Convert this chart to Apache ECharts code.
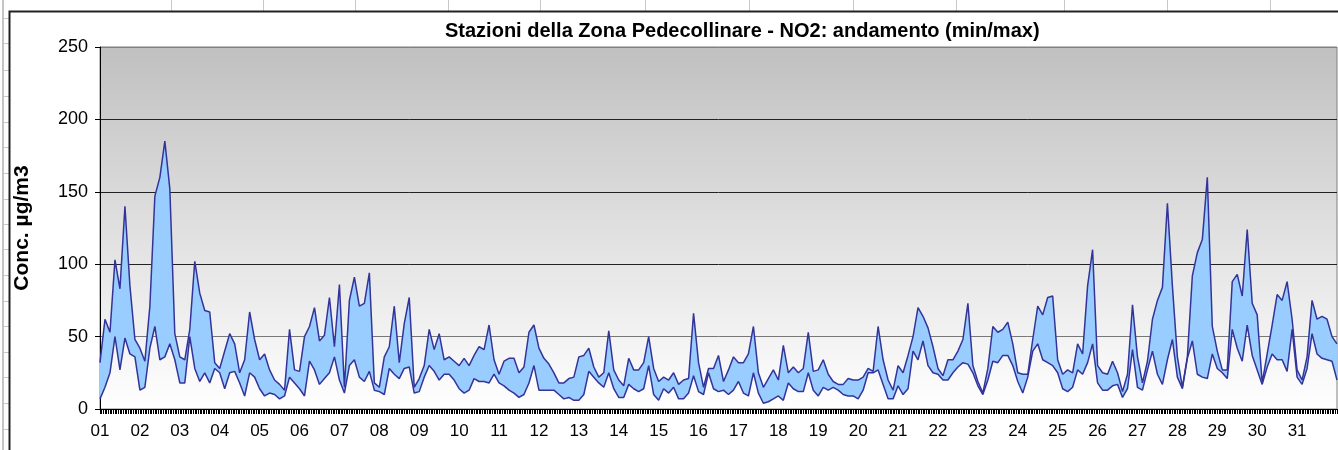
<!DOCTYPE html>
<html>
<head>
<meta charset="utf-8">
<script src="https://cdn.jsdelivr.net/npm/echarts@6/dist/echarts.min.js"></script>
<style>
    html, body {margin:0;padding:0;background:#fff;}
    #chart {width:1338px;height:450px;}
</style>
</head>
<body>
<div id="chart"></div>
<script>
    // giorni del mese (etichette asse x)
    var dayLabels = ['01','02','03','04','05','06','07','08','09','10','11','12','13','14','15','16',
        '17','18','19','20','21','22','23','24','25','26','27','28','29','30','31'];
    var yTicks = [0, 50, 100, 150, 200, 250];
    var stepHours = 3; // un valore ogni 3 ore

    // massimi orari, 8 valori al giorno + chiusura
    var maxVals = [
        32, 62, 53, 103, 83, 140, 85, 48,
        42, 33, 71, 147, 160, 185, 152, 52,
        36, 34, 55, 102, 80, 68, 67, 32,
        28, 40, 52, 45, 25, 34, 67, 48,
        34, 38, 27, 20, 17, 13, 55, 27,
        26, 50, 57, 70, 47, 51, 77, 43,
        86, 15, 75, 91, 71, 73, 94, 18,
        15, 36, 43, 71, 32, 59, 77, 15,
        21, 30, 55, 41, 52, 34, 36, 33,
        30, 35, 30, 37, 43, 41, 58, 34,
        24, 33, 35, 35, 25, 29, 53, 58,
        42, 35, 31, 25, 18, 18, 21, 22,
        36, 37, 42, 29, 22, 25, 54, 27,
        20, 16, 35, 27, 27, 32, 50, 28,
        19, 22, 20, 25, 17, 20, 21, 66,
        32, 15, 28, 28, 37, 19, 27, 36,
        32, 32, 38, 57, 25, 15, 21, 27,
        20, 44, 25, 29, 25, 28, 53, 26,
        27, 34, 24, 19, 17, 17, 21, 20,
        20, 22, 28, 26, 57, 34, 20, 13,
        30, 25, 37, 50, 70, 64, 56, 43,
        28, 23, 34, 34, 40, 48, 73, 30,
        19, 11, 28, 57, 53, 55, 60, 45,
        25, 24, 24, 48, 71, 65, 77, 78,
        34, 24, 27, 25, 45, 38, 85, 110,
        30, 25, 24, 33, 25, 12, 24, 72,
        36, 18, 33, 62, 75, 84, 142, 85,
        36, 15, 36, 92, 108, 117, 160, 57,
        40, 27, 27, 88, 93, 78, 124, 73,
        65, 18, 38, 58, 79, 75, 88, 62,
        27, 20, 36, 75, 62, 64, 62, 50,
        45
    ];

    // minimi orari
    var minVals = [
        7, 15, 25, 50, 27, 49, 38, 36,
        13, 15, 42, 57, 34, 36, 45, 34,
        18, 18, 50, 28, 19, 25, 18, 28,
        25, 14, 25, 26, 18, 9, 25, 22,
        14, 9, 11, 10, 7, 9, 22, 18,
        14, 9, 33, 27, 17, 21, 25, 36,
        20, 11, 30, 34, 22, 19, 26, 13,
        12, 10, 28, 24, 21, 28, 29, 11,
        12, 22, 30, 26, 20, 24, 24, 20,
        14, 11, 13, 21, 19, 19, 18, 24,
        18, 16, 13, 11, 8, 10, 18, 30,
        13, 13, 13, 13, 10, 7, 8, 6,
        6, 10, 26, 22, 18, 15, 25, 14,
        8, 8, 17, 14, 12, 14, 30, 10,
        6, 14, 11, 15, 7, 7, 11, 23,
        12, 10, 25, 14, 12, 13, 10, 13,
        19, 11, 9, 25, 11, 4, 5, 7,
        9, 6, 18, 14, 12, 12, 25, 13,
        9, 15, 13, 15, 13, 10, 9, 9,
        7, 13, 25, 25, 27, 17, 7, 7,
        16, 10, 14, 40, 34, 47, 30, 25,
        24, 20, 20, 25, 29, 32, 31, 25,
        16, 10, 20, 33, 32, 37, 37, 30,
        19, 11, 22, 40, 45, 34, 32, 30,
        25, 14, 12, 15, 27, 24, 32, 45,
        18, 13, 13, 16, 17, 8, 14, 41,
        15, 13, 27, 40, 24, 17, 34, 48,
        22, 14, 35, 47, 24, 22, 21, 38,
        28, 25, 21, 55, 42, 33, 58, 37,
        27, 17, 29, 38, 34, 34, 26, 55,
        22, 17, 28, 52, 38, 35, 34, 33,
        20
    ];

    var totHours = dayLabels.length * 24;
    var minData = [], maxData = [];
    for (var i = 0; i < maxVals.length; i++) {
        minData.push([i * stepHours, minVals[i]]);
        maxData.push([i * stepHours, maxVals[i]]);
    }

    // righe del foglio di calcolo dietro al grafico
    var sheetCols = [3, 171, 263, 355, 448, 540, 645, 749, 853, 956, 1064, 1167, 1270];
    var sheetRows = [18, 43, 70, 96, 122, 147, 173, 199, 224, 249, 275, 301, 326, 352, 377, 403, 429];
    var graphics = [];
    sheetCols.forEach(function (x) {
        graphics.push({type: 'line', silent: true, z: -10,
            shape: {x1: x + 0.5, y1: 0, x2: x + 0.5, y2: 11}, style: {stroke: '#c8c8c8', lineWidth: 1}});
    });
    graphics.push({type: 'line', silent: true, z: -10,
        shape: {x1: 3, y1: 0, x2: 3, y2: 450}, style: {stroke: '#c4c4c4', lineWidth: 2}});
    sheetRows.forEach(function (y) {
        graphics.push({type: 'line', silent: true, z: -10,
            shape: {x1: 3, y1: y + 0.5, x2: 9, y2: y + 0.5}, style: {stroke: '#c8c8c8', lineWidth: 1}});
    });
    graphics.push({type: 'rect', silent: true, z: -5,
        shape: {x: 9.5, y: 11.5, width: 1340, height: 450}, style: {fill: null, stroke: '#222', lineWidth: 2}});

    var chart = echarts.init(document.getElementById('chart'));
    var font = '"Liberation Sans", Arial, sans-serif';
    var lineCol = '#333399';

    chart.setOption({
        animation: false,
        textStyle: {fontFamily: font},
        title: {
            text: 'Stazioni della Zona Pedecollinare - NO2: andamento (min/max)',
            left: 440, top: 16,
            textStyle: {fontFamily: font, fontSize: 20, fontWeight: 'bold', color: '#000'}
        },
        graphic: graphics,
        grid: {
            left: 100, top: 47, width: 1237, height: 362,
            show: true, borderColor: '#808080', borderWidth: 1,
            backgroundColor: {type: 'linear', x: 0, y: 0, x2: 0, y2: 1,
                colorStops: [{offset: 0, color: '#c0c0c0'}, {offset: 1, color: '#ffffff'}]}
        },
        xAxis: {
            type: 'value', min: 0, max: totHours, interval: 24,
            axisLine: {lineStyle: {color: '#000', width: 1}},
            axisTick: {show: true, length: 5, lineStyle: {color: '#000'}},
            minorTick: {show: true, splitNumber: 24, length: 5, lineStyle: {color: '#000'}},
            splitLine: {show: false},
            axisLabel: {
                fontSize: 17, color: '#000', margin: 14, showMaxLabel: false,
                formatter: function (v) { return dayLabels[v / 24] || ''; }
            }
        },
        yAxis: {
            type: 'value', min: yTicks[0], max: yTicks[yTicks.length - 1], interval: 50,
            name: 'Conc. µg/m3', nameLocation: 'middle', nameGap: 67, nameRotate: 90,
            nameTextStyle: {fontSize: 21, fontWeight: 'bold', color: '#000'},
            axisLine: {show: true, lineStyle: {color: '#000'}},
            axisTick: {show: true, length: 5, lineStyle: {color: '#000'}},
            axisLabel: {fontSize: 18, color: '#000', margin: 12},
            splitLine: {show: true, lineStyle: {color: ['#000', '#777', '#222', '#222', '#222', '#808080'], width: 1}}
        },
        series: [
            {
                // banda min-max riempita
                name: 'band', type: 'custom', silent: true, z: 2, clip: true,
                data: [[0, 0]],
                renderItem: function (params, api) {
                    var pts = [];
                    for (var k = 0; k < maxData.length; k++) pts.push(api.coord(maxData[k]));
                    for (var k = minData.length - 1; k >= 0; k--) pts.push(api.coord(minData[k]));
                    return {type: 'polygon', shape: {points: pts}, style: {fill: '#99ccff', stroke: null}};
                }
            },
            {
                name: 'min', type: 'line', data: minData,
                symbol: 'none', z: 4,
                lineStyle: {color: lineCol, width: 1.5}
            },
            {
                name: 'max', type: 'line', data: maxData,
                symbol: 'none', z: 4,
                lineStyle: {color: lineCol, width: 1.5}
            }
        ]
    });
</script>
</body>
</html>
